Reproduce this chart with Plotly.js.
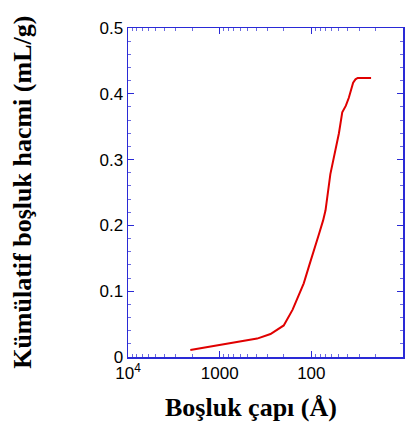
<!DOCTYPE html>
<html>
<head>
<meta charset="utf-8">
<script src="https://cdn.plot.ly/plotly-3.0.1.min.js"></script>
<style>html,body{margin:0;padding:0;background:#fff;}#chart{width:412px;height:428px;}</style>
</head>
<body>
<div id="chart"></div>
<script>
// Pore diameter (Å) and cumulative pore volume (mL/g)
const poreDiameter = [2090, 1500, 980, 702, 500, 390, 279, 200, 160, 137, 121, 105, 94, 82, 74.4, 70, 62, 54.6, 50, 46, 42, 39, 35, 33, 31.2, 27, 22.3];
const cumulativeVolume = [0.0106, 0.014, 0.018, 0.021, 0.025, 0.028, 0.035, 0.048, 0.072, 0.094, 0.112, 0.14, 0.16, 0.188, 0.2076, 0.223, 0.278, 0.314, 0.34, 0.372, 0.382, 0.394, 0.417, 0.422, 0.424, 0.424, 0.424];
const xTickVals = [10000, 1000, 100, 10];
const xTickText = ['10<sup>4</sup>', '1000', '100', '10'];
const yTickVals = [0, 0.1, 0.2, 0.3, 0.4, 0.5];
const yTickText = ['0', '0.1', '0.2', '0.3', '0.4', '0.5'];
const xTitle = 'Boşluk çapı (Å)';
const yTitle = 'Kümülatif boşluk hacmi (mL/g)';

const minorX = [];
[1000, 100, 10].forEach(d => { for (let k = 2; k <= 9; k++) minorX.push(d * k); });

const axisColor = '#2a2ad6';
const tickFont = {family: 'Liberation Sans, Arial, sans-serif', size: 17, color: '#000'};
const xTitleFont = {family: 'Liberation Serif, Times New Roman, serif', size: 26, color: '#000', weight: 'bold'};
const yTitleFont = {family: 'Liberation Serif, Times New Roman, serif', size: 26, color: '#000', weight: 'bold'};

Plotly.newPlot('chart', [{
  x: poreDiameter,
  y: cumulativeVolume,
  type: 'scatter',
  mode: 'lines',
  line: {color: '#e00000', width: 2},
  showlegend: false,
  hoverinfo: 'skip'
}], {
  width: 412, height: 428,
  margin: {l: 127.5, r: 9.3, t: 27.5, b: 71},
  paper_bgcolor: '#fff', plot_bgcolor: '#fff',
  xaxis: {
    type: 'log', range: [4, 1],
    tickmode: 'array', tickvals: xTickVals, ticktext: xTickText,
    ticks: 'inside', ticklen: 6, tickwidth: 1, tickcolor: axisColor,
    minor: {tickvals: minorX, ticks: 'inside', ticklen: 3, tickcolor: '#6a6ae0', tickwidth: 1},
    showline: true, linecolor: axisColor, linewidth: 1.5, mirror: 'allticks',
    showgrid: false, zeroline: false,
    tickfont: tickFont
  },
  yaxis: {
    range: [0, 0.5],
    tickmode: 'array', tickvals: yTickVals, ticktext: yTickText,
    ticks: 'inside', ticklen: 6, tickwidth: 1, tickcolor: axisColor,
    minor: {dtick: 0.02, ticks: 'inside', ticklen: 3, tickcolor: '#6a6ae0', tickwidth: 1},
    showline: true, linecolor: axisColor, linewidth: 1.5, mirror: 'allticks',
    showgrid: false, zeroline: false,
    tickfont: tickFont
  },
  annotations: [
    {text: xTitle, xref: 'paper', yref: 'paper', x: (251 - 127.5) / 275.2, y: (357 - 408) / 329.5,
     xanchor: 'center', yanchor: 'middle', showarrow: false, font: xTitleFont},
    {text: yTitle, xref: 'paper', yref: 'paper', x: (22 - 127.5) / 275.2, y: (357 - 192) / 329.5,
     xanchor: 'center', yanchor: 'middle', textangle: -90, showarrow: false, font: yTitleFont}
  ]
}, {staticPlot: true, displayModeBar: false});
</script>
</body>
</html>
